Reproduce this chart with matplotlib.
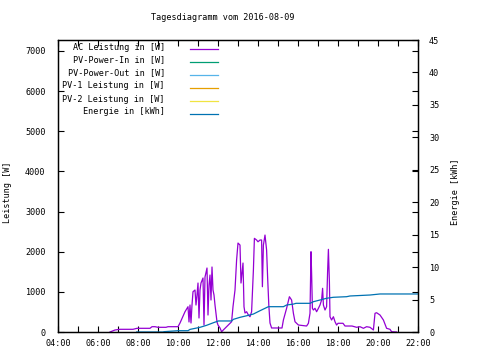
import matplotlib
matplotlib.use("Agg")
import matplotlib.pyplot as plt
from matplotlib.lines import Line2D

plt.rcParams['font.family'] = ['DejaVu Sans Mono']
FS = 6.1

title = "Tagesdiagramm vom 2016-08-09"

ac_hours = [6.60, 6.85, 7.10, 7.75, 7.95, 8.60, 8.70, 8.85, 9.00, 9.40, 9.50, 10.00,
            10.10, 10.35, 10.50, 10.55, 10.60, 10.65, 10.70, 10.75, 10.85, 10.90, 10.95,
            11.00, 11.05, 11.10, 11.15, 11.25, 11.30, 11.35, 11.45, 11.50, 11.55, 11.60,
            11.65, 11.70, 11.75, 11.80, 11.85, 11.95, 12.00, 12.10, 12.18, 12.43, 12.68,
            12.75, 12.85, 12.93, 13.00, 13.10, 13.15, 13.25, 13.30, 13.35, 13.43, 13.52,
            13.60, 13.68, 13.77, 13.82, 13.93, 14.00, 14.10, 14.18, 14.22, 14.27, 14.35,
            14.43, 14.48, 14.54, 14.60, 14.68, 15.20, 15.27, 15.43, 15.57, 15.68, 15.77,
            15.85, 16.02, 16.43, 16.52, 16.60, 16.65, 16.68, 16.72, 16.77, 16.85, 16.93,
            17.02, 17.10, 17.18, 17.23, 17.27, 17.35, 17.43, 17.48, 17.52, 17.57, 17.60,
            17.68, 17.77, 17.85, 17.93, 18.00, 18.25, 18.35, 18.70, 18.93, 19.10, 19.27,
            19.43, 19.60, 19.77, 19.85, 19.93, 20.10, 20.27, 20.43, 20.60, 20.68, 20.93]
ac_watts = [0, 50, 67, 67, 92, 92, 132, 132, 117, 117, 132, 132,
            224, 505, 630, 250, 672, 224, 672, 1003, 1046, 672, 921,
            1220, 349, 1046, 1220, 1345, 174, 1370, 1594, 423, 1170, 1419,
            797, 1619, 1046, 921, 672, 249, 174, 100, 7, 132, 256,
            630, 1046, 1793, 2216, 2166, 1220, 1718, 630, 473, 505, 423,
            381, 505, 1544, 2333, 2291, 2248, 2291, 2291, 1128, 2166, 2415,
            2042, 1377, 672, 224, 100, 100, 299, 590, 879, 797, 466,
            256, 174, 149, 217, 466, 2000, 1469, 590, 548, 590, 505,
            590, 672, 797, 1088, 672, 548, 630, 1501, 2059, 1252, 381,
            299, 381, 256, 174, 217, 217, 149, 149, 117, 132, 92,
            132, 117, 50, 466, 480, 423, 299, 92, 67, 7, 0]

energy_hours = [7.93, 9.25, 9.30, 10.00, 10.50, 10.60, 11.10, 11.43, 11.77, 12.02, 12.68,
                12.77, 13.10, 13.43, 13.77, 14.10, 14.35, 14.52, 15.27, 15.43, 15.77, 15.90,
                16.60, 16.77, 17.10, 17.43, 17.77, 18.43, 18.60, 19.60, 20.10, 22.00]
energy_kwh = [0, 0, 0.05, 0.2, 0.2, 0.4, 0.72, 1.03, 1.43, 1.70, 1.70,
              1.95, 2.26, 2.5, 2.77, 3.28, 3.65, 3.9, 3.9, 4.16, 4.3, 4.42,
              4.42, 4.67, 4.93, 5.2, 5.35, 5.44, 5.55, 5.7, 5.86, 5.86]

pv_in = []
pv_out = []
pv1 = []
pv2 = []

series_labels = ["AC Leistung in [W]", "PV-Power-In in [W]", "PV-Power-Out in [W]",
                 "PV-1 Leistung in [W]", "PV-2 Leistung in [W]", "Energie in [kWh]"]
series_colors = ["#9400D3", "#009E73", "#56B4E9", "#E69F00", "#F0E442", "#0072B2"]

x_ticks = list(range(4, 23, 2))
x_ticklabels = ["%02d:00" % h for h in x_ticks]
y_ticks = list(range(0, 7001, 1000))
y2_ticks = list(range(0, 46, 5))

fig = plt.figure(figsize=(4.8, 3.6), dpi=100)
ax = fig.add_axes([58/480, 28/360, 360/480, 292/360])
ax2 = ax.twinx()

lw = 0.9
ax.plot(ac_hours, ac_watts, color=series_colors[0], lw=lw)
ax.plot(pv_in, pv_in, color=series_colors[1], lw=lw)
ax.plot(pv_out, pv_out, color=series_colors[2], lw=lw)
ax.plot(pv1, pv1, color=series_colors[3], lw=lw)
ax.plot(pv2, pv2, color=series_colors[4], lw=lw)
ax2.plot(energy_hours, energy_kwh, color=series_colors[5], lw=lw)

ax.set_xlim(4, 22)
ax.set_ylim(0, 7274)
ax2.set_ylim(0, 45)

ax.set_xticks(x_ticks)
ax.set_xticks(range(4, 23), minor=True)
ax.set_xticklabels(x_ticklabels, fontsize=FS)
ax.set_yticks(y_ticks)
ax.set_yticklabels([str(v) for v in y_ticks], fontsize=FS)
ax2.set_yticks(y2_ticks)
ax2.set_yticklabels([str(v) for v in y2_ticks], fontsize=FS)

ax.tick_params(axis='x', which='both', direction='in', top=True, length=4, width=0.8, pad=5)
ax.tick_params(axis='y', which='both', direction='in', right=True, length=4, width=0.8, pad=9)
ax2.tick_params(axis='y', direction='in', length=4, width=0.8, pad=8)

for a in (ax, ax2):
    for s in a.spines.values():
        s.set_linewidth(0.9)

fig.text(223/480, 1 - 17/360, title, ha='center', va='center', fontsize=FS)
fig.text(8/480, 1 - 192/360, "Leistung [W]", rotation=90, ha='center', va='center', fontsize=FS)
fig.text(455/480, 1 - 192/360, "Energie [kWh]", rotation=90, ha='center', va='center', fontsize=FS)

# legend
row_y = [47, 60, 73, 86, 99, 112]
for lab, col, yy in zip(series_labels, series_colors, row_y):
    fy = (332 - yy) / 292
    ax.text((165 - 58) / 360, fy, lab, transform=ax.transAxes, ha='right', va='center', fontsize=FS)
    ax.add_line(Line2D([(190 - 58) / 360, (218 - 58) / 360], [fy - 0.007, fy - 0.007],
                       transform=ax.transAxes, color=col, lw=lw))

fig.savefig("out.png", dpi=100)
